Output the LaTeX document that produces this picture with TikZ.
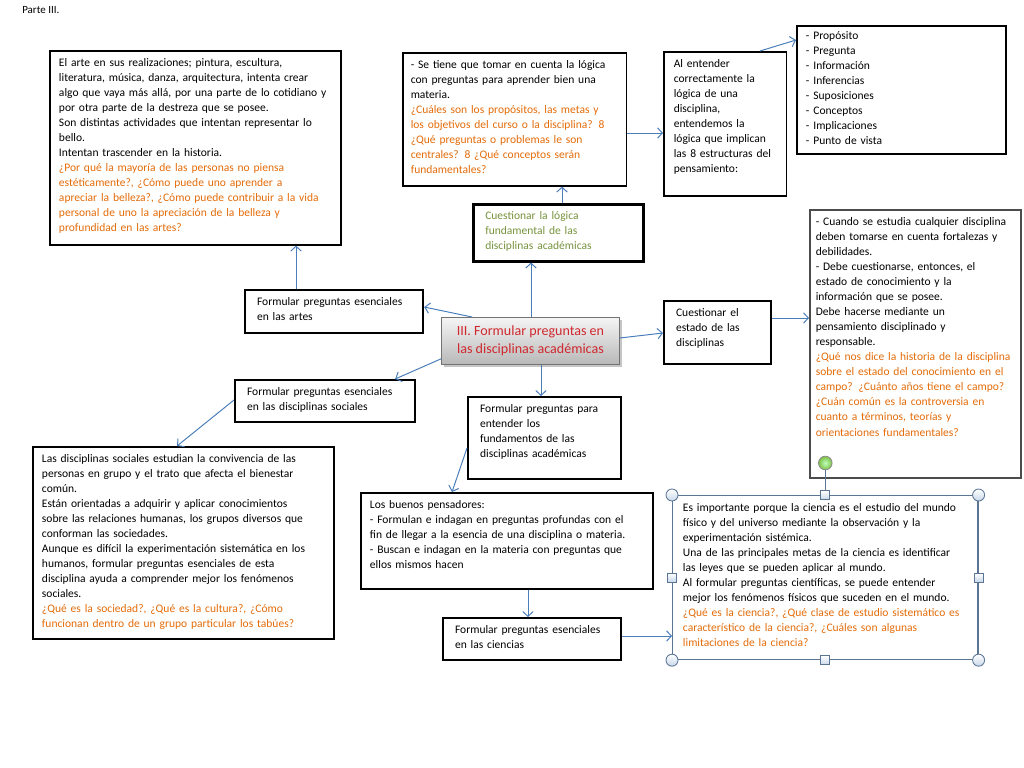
\documentclass[tikz,border=0pt]{standalone}
\usepackage{fontspec}
\setmainfont{Carlito}
\usetikzlibrary{arrows.meta,positioning,calc,shadows}
\definecolor{naranja}{HTML}{E46C0A}
\definecolor{verde}{HTML}{77933C}
\definecolor{rojo}{HTML}{D0282E}
\definecolor{azul}{HTML}{4A7EBB}
\definecolor{marco}{HTML}{5B7594}
\definecolor{tirador}{HTML}{C9D8EA}
\definecolor{giro}{HTML}{7CC242}
\tikzset{
  caja/.style={rectangle,draw=black,line width=1.1pt,fill=white,align=left,anchor=north west,inner xsep=0.23cm,inner ysep=0.17cm,text height=0.22cm,font=\fontsize{8.2}{10.7}\selectfont},
  etiqueta/.style={caja,line width=1.5pt,inner xsep=0.3cm},
  central/.style={rectangle,draw=black!55,line width=0.6pt,top color=white!96!black,bottom color=black!28,drop shadow={shadow xshift=0.07cm,shadow yshift=-0.07cm,fill=black!45},align=center,anchor=north west,minimum width=4.45cm,minimum height=1.175cm,inner sep=2pt,text=rojo,font=\fontsize{10}{12.4}\selectfont},
  flecha/.style={-{Straight Barb[length=1.2mm,width=2.6mm]},draw=azul,line width=0.7pt},
  esquina/.style={circle,draw=marco,line width=0.6pt,top color=white,bottom color=tirador,minimum size=0.3cm,inner sep=0pt},
  lado/.style={rectangle,draw=marco,line width=0.6pt,top color=white,bottom color=tirador,minimum size=0.22cm,inner sep=0pt},
  girador/.style={circle,draw=black!45,line width=0.6pt,inner color=green!25!white,outer color=giro,minimum size=0.34cm,inner sep=0pt}
}

\begin{document}
\begin{tikzpicture}[x=0.025cm,y=-0.025cm]
  \path[use as bounding box,fill=white] (0,0) rectangle (1024,768);
  \node[anchor=west,inner sep=0pt,font=\fontsize{7.8}{9}\selectfont] (parte) at (22,10) {Parte III.};

  \node[caja,text width=6.815cm,text depth=4.29cm] (arte) at (49,50) {El arte en sus realizaciones; pintura, escultura,\\
    literatura, música, danza, arquitectura, intenta crear\\
    algo que vaya más allá, por una parte de lo cotidiano y\\
    por otra parte de la destreza que se posee.\\
    Son distintas actividades que intentan representar lo\\
    bello.\\
    Intentan trascender en la historia.\\
    \color{naranja}¿Por qué la mayoría de las personas no piensa\\
    estéticamente?, ¿Cómo puede uno aprender a\\
    apreciar la belleza?, ¿Cómo puede contribuir a la vida\\
    personal de uno la apreciación de la belleza y\\
    profundidad en las artes?};
  \node[caja,text width=5.19cm,text depth=2.765cm,inner xsep=0.2cm] (logica) at (402,52) {- Se tiene que tomar en cuenta la lógica\\
    con preguntas para aprender bien una\\
    materia.\\
    \color{naranja}¿Cuáles son los propósitos, las metas y\\
    los objetivos del curso o la disciplina? 8\\
    ¿Qué preguntas o problemas le son\\
    centrales? 8 ¿Qué conceptos serán\\
    fundamentales?};
  \node[caja,text width=2.565cm,text depth=3.04cm,inner xsep=0.25cm] (entender) at (663,51) {Al entender\\ correctamente la\\ lógica de una\\ disciplina,\\ entendemos la\\ lógica que implican\\ las 8 estructuras del\\ pensamiento:};
  \node[caja,text width=4.765cm,text depth=2.74cm,inner ysep=0.12cm] (lista) at (796,25) {- Propósito\\ - Pregunta\\ - Información\\ - Inferencias\\ - Suposiciones\\ - Conceptos\\ - Implicaciones\\ - Punto de vista};

  \node[etiqueta,text width=3.65cm,text depth=0.865cm,line width=1.8pt,text=verde] (cuestlog) at (472,203) {Cuestionar la lógica\\ fundamental de las\\ disciplinas académicas};
  \node[etiqueta,text width=3.85cm,text depth=0.515cm] (artes) at (244,289) {Formular preguntas esenciales\\ en las artes};
  \node[central] (centro) at (441,317) {III. Formular preguntas en\\ las disciplinas académicas};
  \node[etiqueta,text width=2.075cm,text depth=1.015cm] (estado) at (663,300) {Cuestionar el\\ estado de las\\ disciplinas};
  \node[caja,draw=black!70,line width=1.1pt,text width=4.975cm,text depth=6.14cm,inner xsep=0.15cm] (derecha) at (809,209) {- Cuando se estudia cualquier disciplina\\
    deben tomarse en cuenta fortalezas y\\
    debilidades.\\
    - Debe cuestionarse, entonces, el\\
    estado de conocimiento y la\\
    información que se posee.\\
    Debe hacerse mediante un\\
    pensamiento disciplinado y\\
    responsable.\\
    \color{naranja}¿Qué nos dice la historia de la disciplina\\
    sobre el estado del conocimiento en el\\
    campo? ¿Cuánto años tiene el campo?\\
    ¿Cuán común es la controversia en\\
    cuanto a términos, teorías y\\
    orientaciones fundamentales?};
  \node[etiqueta,text width=3.9cm,text depth=0.49cm] (sociales) at (234,379) {Formular preguntas esenciales\\ en las disciplinas sociales};
  \node[etiqueta,text width=3.225cm,text depth=1.49cm] (fundamentos) at (467,396) {Formular preguntas para\\ entender los\\ fundamentos de las\\ disciplinas académicas};

  \node[caja,text width=7.065cm,text depth=4.24cm] (social) at (32,446) {Las disciplinas sociales estudian la convivencia de las\\
    personas en grupo y el trato que afecta el bienestar\\
    común.\\
    Están orientadas a adquirir y aplicar conocimientos\\
    sobre las relaciones humanas, los grupos diversos que\\
    conforman las sociedades.\\
    Aunque es difícil la experimentación sistemática en los\\
    humanos, formular preguntas esenciales de esta\\
    disciplina ayuda a comprender mejor los fenómenos\\
    sociales.\\
    \color{naranja}¿Qué es la sociedad?, ¿Qué es la cultura?, ¿Cómo\\
    funcionan dentro de un grupo particular los tabúes?};
  \node[caja,text width=6.84cm,text depth=1.84cm] (buenos) at (360,492) {Los buenos pensadores:\\
    - Formulan e indagan en preguntas profundas con el\\
    fin de llegar a la esencia de una disciplina o materia.\\
    - Buscan e indagan en la materia con preguntas que\\
    ellos mismos hacen};
  \node[etiqueta,text width=3.85cm,text depth=0.49cm] (ciencias) at (442,617) {Formular preguntas esenciales\\ en las ciencias};
  \node[caja,draw=marco,line width=0.8pt,text width=7.115cm,text depth=3.54cm,inner xsep=0.26cm] (ciencia) at (672,495) {Es importante porque la ciencia es el estudio del mundo\\
    físico y del universo mediante la observación y la\\
    experimentación sistémica.\\
    Una de las principales metas de la ciencia es identificar\\
    las leyes que se pueden aplicar al mundo.\\
    Al formular preguntas científicas, se puede entender\\
    mejor los fenómenos físicos que suceden en el mundo.\\
    \color{naranja}¿Qué es la ciencia?, ¿Qué clase de estudio sistemático es\\
    característico de la ciencia?, ¿Cuáles son algunas\\
    limitaciones de la ciencia?};

  \node[girador] (giro) at ($(ciencia.north)+(0,-32)$) {};
  \draw[marco,line width=0.8pt] (giro) -- (ciencia.north);
  \foreach \a in {north west,north east,south west,south east}
    \node[esquina] at (ciencia.\a) {};
  \foreach \a in {north,south,east,west}
    \node[lado] at (ciencia.\a) {};

  \draw[flecha] ($(centro.north west)+(31,0)$) -- ($(artes.north east)+(0,18)$);
  \draw[flecha] ($(artes.north west)+(52,0)$) -- ($(arte.south west)+(247,0)$);
  \draw[flecha] ($(centro.north west)+(90,0)$) -- ($(cuestlog.south west)+(59,0)$);
  \draw[flecha] ($(cuestlog.north west)+(90,0)$) -- ($(logica.south west)+(160,0)$);
  \draw[flecha] ($(logica.north east)+(0,81)$) -- ($(entender.north west)+(0,82)$);
  \draw[flecha] ($(entender.north west)+(97,0)$) -- ($(lista.north west)+(0,15)$);
  \draw[flecha] ($(centro.north east)+(0,21)$) -- ($(estado.north west)+(0,33)$);
  \draw[flecha] ($(estado.north east)+(0,18)$) -- ($(derecha.north west)+(0,109)$);
  \draw[flecha] ($(centro.south west)+(0,-6)$) -- ($(sociales.north east)+(-21,0)$);
  \draw[flecha] ($(sociales.north west)+(0,21)$) -- ($(social.north west)+(145,0)$);
  \draw[flecha] ($(centro.south west)+(100,0)$) -- ($(fundamentos.north west)+(74,0)$);
  \draw[flecha] ($(fundamentos.north west)+(0,52)$) -- ($(buenos.north west)+(92,0)$);
  \draw[flecha] ($(buenos.south west)+(168,0)$) -- ($(ciencias.north west)+(86,0)$);
  \draw[flecha] ($(ciencias.north east)+(0,19)$) -- ($(ciencia.north west)+(0,141)$);
\end{tikzpicture}
\end{document}
